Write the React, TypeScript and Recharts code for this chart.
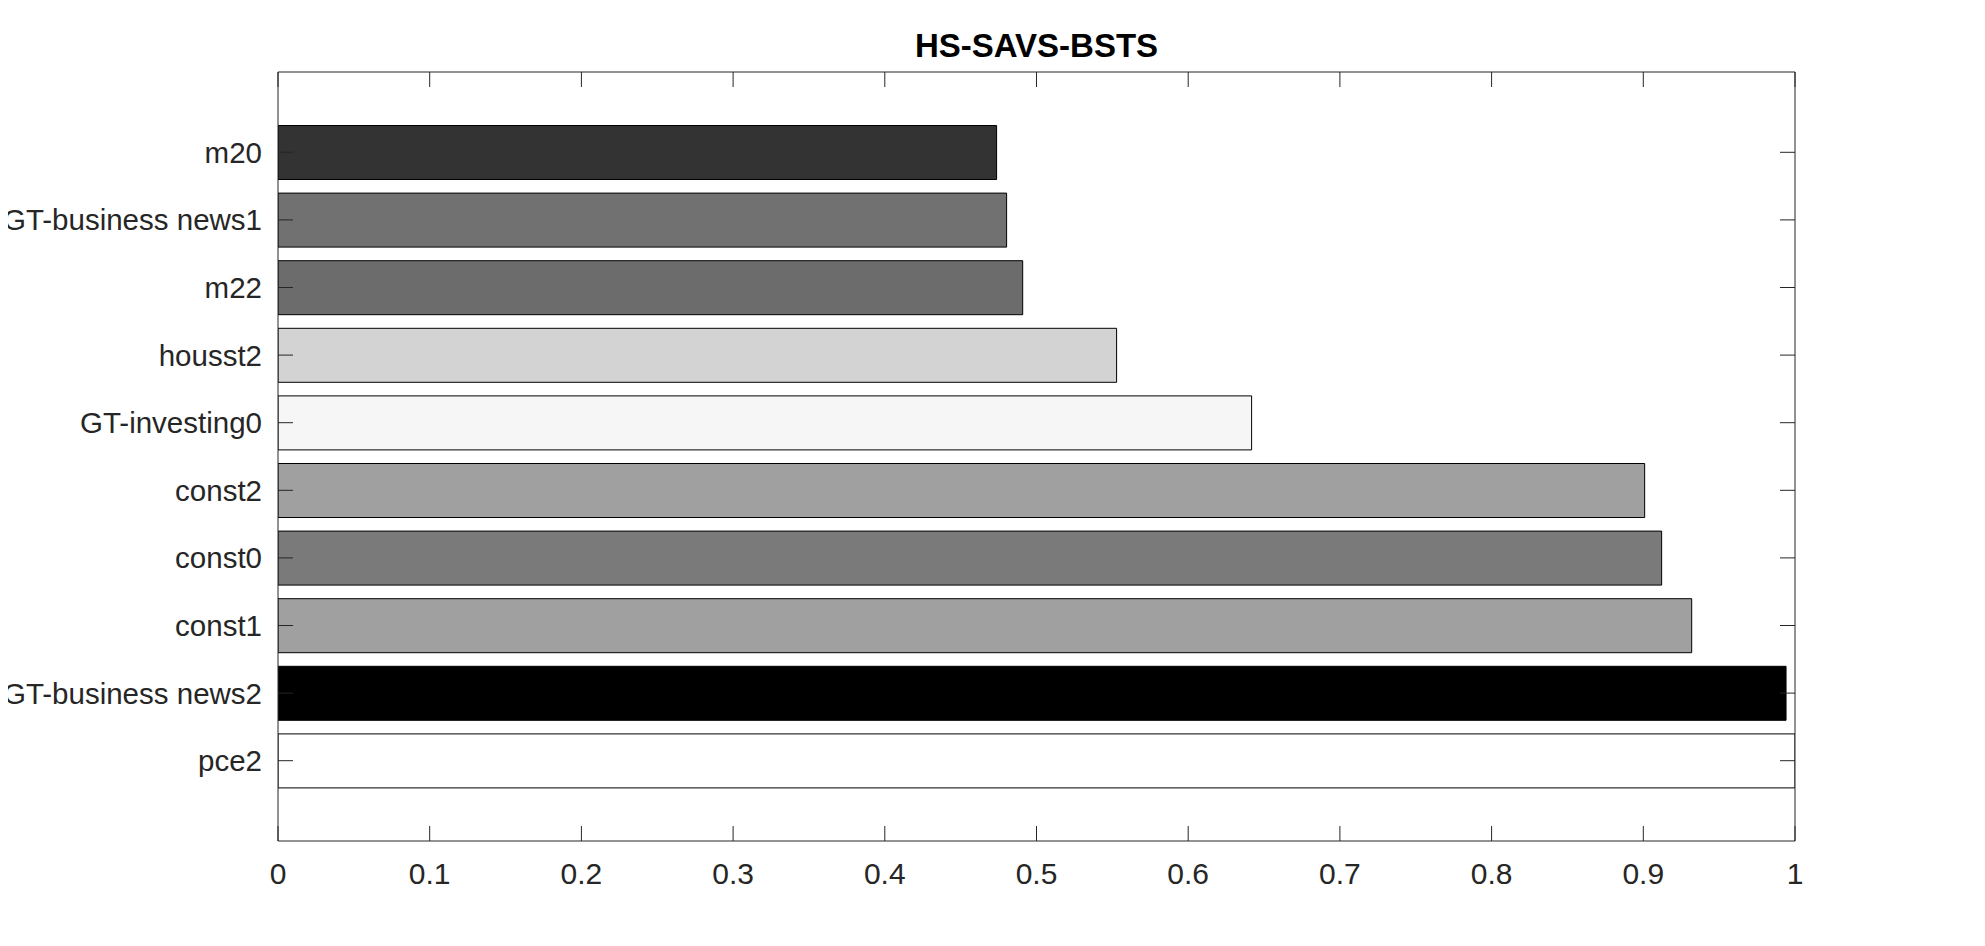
import React from "react";
import { BarChart, Bar, Cell, XAxis, YAxis } from "recharts";

const categories = [
  "m20",
  "GT-business news1",
  "m22",
  "housst2",
  "GT-investing0",
  "const2",
  "const0",
  "const1",
  "GT-business news2",
  "pce2",
];
const values = [0.4737, 0.4803, 0.4909, 0.5528, 0.6418, 0.9009, 0.9121, 0.9319, 0.9941, 1.0];
const fills = [
  "#333333",
  "#717171",
  "#6c6c6c",
  "#d3d3d3",
  "#f6f6f6",
  "#a0a0a0",
  "#7a7a7a",
  "#a0a0a0",
  "#000000",
  "#ffffff",
];
const xTicks = [0, 0.1, 0.2, 0.3, 0.4, 0.5, 0.6, 0.7, 0.8, 0.9, 1];

const AXIS = "#262626";
const FONT = "'Liberation Sans', Arial, Helvetica, sans-serif";

const chartData = categories.map((name, i) => ({ name, value: values[i] }));

const NoTick = () => <g />;

export default function App() {
  const xTickStyle = { fontSize: 30, fill: AXIS, fontFamily: FONT };
  const yTickStyle = { fontSize: 29.5, fill: AXIS, fontFamily: FONT };
  const axisLine = { stroke: AXIS, strokeWidth: 1 };
  const pad = { top: 46.5, bottom: 46.5 };

  // shift left over the body margin so long labels reach the page edge
  return (
    <div style={{ position: "relative", width: 1968, height: 930, marginLeft: -8, background: "#fff" }}>
      <div
        style={{
          position: "absolute",
          left: 736.5,
          width: 600,
          top: 21,
          textAlign: "center",
          fontFamily: FONT,
          fontWeight: "bold",
          fontSize: 33,
          lineHeight: "33px",
          color: "#000",
        }}
      >
        HS-SAVS-BSTS
      </div>
      <BarChart
        width={1968}
        height={930}
        data={chartData}
        layout="vertical"
        margin={{ top: 34, right: 123, bottom: 37, left: 8 }}
      >
        <XAxis
          xAxisId="bottom"
          type="number"
          domain={[0, 1]}
          ticks={xTicks}
          allowDataOverflow
          orientation="bottom"
          height={60}
          axisLine={axisLine}
          tickLine={{ stroke: AXIS }}
          tickSize={-15}
          tickMargin={37}
          tick={xTickStyle}
          tickFormatter={(v) => String(v)}
        />
        <XAxis
          xAxisId="top"
          type="number"
          domain={[0, 1]}
          ticks={xTicks}
          allowDataOverflow
          orientation="top"
          height={30}
          axisLine={axisLine}
          tickLine={{ stroke: AXIS }}
          tickSize={-15}
          tick={NoTick}
        />
        <YAxis
          yAxisId="left"
          type="category"
          dataKey="name"
          orientation="left"
          width={270}
          padding={pad}
          axisLine={axisLine}
          tickLine={{ stroke: AXIS }}
          tickSize={-15}
          tickMargin={31}
          tick={yTickStyle}
          interval={0}
        />
        <YAxis
          yAxisId="right"
          type="category"
          dataKey="name"
          orientation="right"
          width={50}
          padding={pad}
          axisLine={axisLine}
          tickLine={{ stroke: AXIS }}
          tickSize={-15}
          tick={NoTick}
          interval={0}
        />
        <Bar
          dataKey="value"
          xAxisId="bottom"
          yAxisId="left"
          barSize={54}
          stroke="#000"
          strokeWidth={1}
          isAnimationActive={false}
        >
          {chartData.map((d, i) => (
            <Cell key={d.name} fill={fills[i]} />
          ))}
        </Bar>
      </BarChart>
    </div>
  );
}
